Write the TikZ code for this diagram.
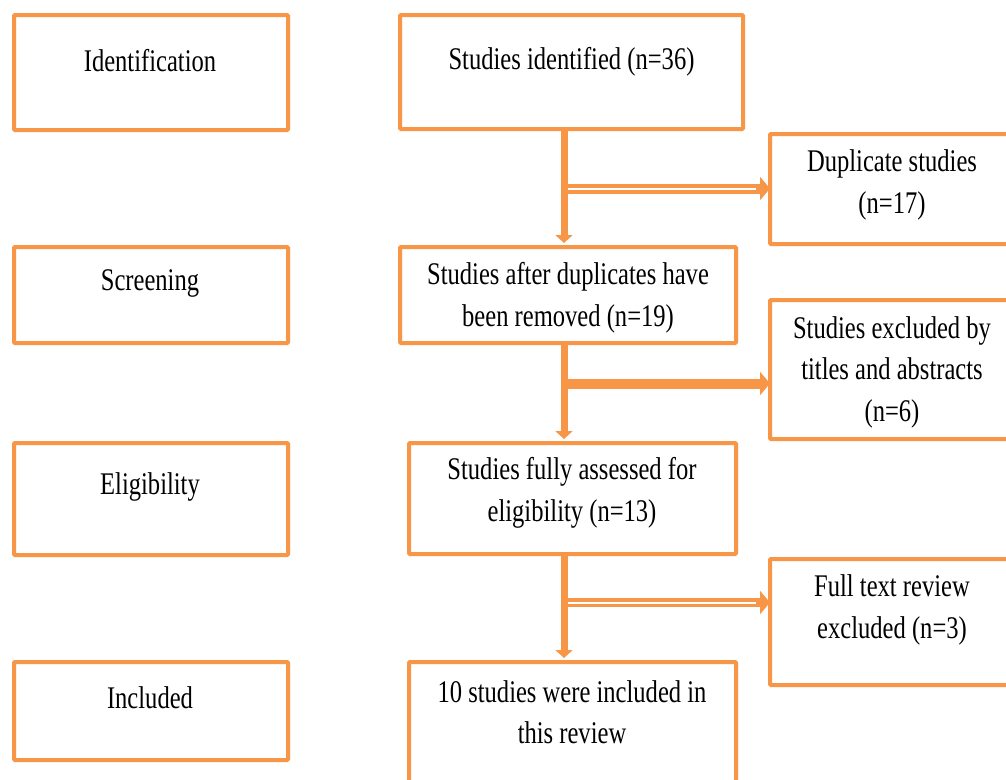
\documentclass[tikz,border=0pt]{standalone}
\usepackage{fontspec}
\setmainfont[FakeStretch=0.78]{Liberation Serif}
\usetikzlibrary{arrows.meta}
\definecolor{prismaorange}{RGB}{247,150,70}
\tikzset{
  box/.style={draw=prismaorange, line width=4pt, rounded corners=1pt, inner sep=0pt, outer sep=0pt, fill=white},
  txt/.style={inner sep=0pt, align=center, font=\fontsize{31.5}{41.5}\selectfont},
  varrow/.style={draw=prismaorange, line width=7pt, -{Triangle[width=17pt,length=8pt]}},
  harrow/.style={draw=prismaorange, line width=10pt, -{Triangle[width=23pt,length=10pt]}},
  hgap/.style={draw=white, line width=2pt}
}
\begin{document}
\begin{tikzpicture}[x=1pt,y=-1pt]
\clip (0,0) rectangle (1006,779);
\fill[white] (0,0) rectangle (1006,779);
% left column
\node[box, minimum width=274pt, minimum height=115pt] (lid) at (151,72.5) {};
\node[box, minimum width=274pt, minimum height=96pt] (lsc) at (151,295) {};
\node[box, minimum width=274pt, minimum height=112pt] (lel) at (151,499) {};
\node[box, minimum width=274pt, minimum height=98pt] (lin) at (151,711) {};
\node[txt] (tlid) at (150,61) {Identification};
\node[txt] (tlsc) at (150,283) {Screening};
\node[txt] (tlel) at (150,487) {Eligibility};
\node[txt] (tlin) at (150,698) {Included};
% middle column
\node[box, minimum width=343pt, minimum height=114pt] (mid) at (571.5,72) {};
\node[box, minimum width=336pt, minimum height=96pt] (msc) at (568,295) {};
\node[box, minimum width=327pt, minimum height=111pt] (mel) at (572.5,498.5) {};
\node[box, minimum width=327pt, minimum height=138pt] (min) at (572.5,731) {};
\node[txt] (tmid) at (571.5,62) {Studies identified (n=36)};
\node[txt] (tmsc) at (568,298) {Studies after duplicates have\\been removed (n=19)};
\node[txt] (tmel) at (572,493) {Studies fully assessed for\\eligibility (n=13)};
\node[txt] (tmin) at (572,712) {10 studies were included in\\this review};
% right column
\node[box, minimum width=270pt, minimum height=110pt] (rdup) at (905,189) {};
\node[box, minimum width=270pt, minimum height=139pt] (rex) at (905,369.5) {};
\node[box, minimum width=270pt, minimum height=126pt] (rft) at (905,622) {};
\node[txt] (trdup) at (892,185) {Duplicate studies\\(n=17)};
\node[txt] (trex) at (892,372) {Studies excluded by\\titles and abstracts\\(n=6)};
\node[txt] (trft) at (892,610) {Full text review\\excluded (n=3)};
% junction coordinates on the main vertical line
\coordinate (jx) at (564,0);
\coordinate (j1) at (560.5,188.5);
\coordinate (j2) at (560.5,383.5);
\coordinate (j3) at (560.5,602.5);
% vertical arrows
\draw[varrow] (mid.south -| jx) -- ([yshift=4pt]msc.north -| jx);
\draw[varrow] (msc.south -| jx) -- ([yshift=4pt]mel.north -| jx);
\draw[varrow] (mel.south -| jx) -- ([yshift=4pt]min.north -| jx);
% horizontal arrows
\draw[harrow] (j1) -- (rdup.west |- j1);
\draw[hgap] ([xshift=7pt]j1) -- ([xshift=-14pt]rdup.west |- j1);
\draw[harrow] (j2) -- (rex.west |- j2);
\draw[harrow, line width=9pt] (j3) -- (rft.west |- j3);
\draw[hgap] ([xshift=7pt]j3) -- ([xshift=-14pt]rft.west |- j3);
\end{tikzpicture}
\end{document}
